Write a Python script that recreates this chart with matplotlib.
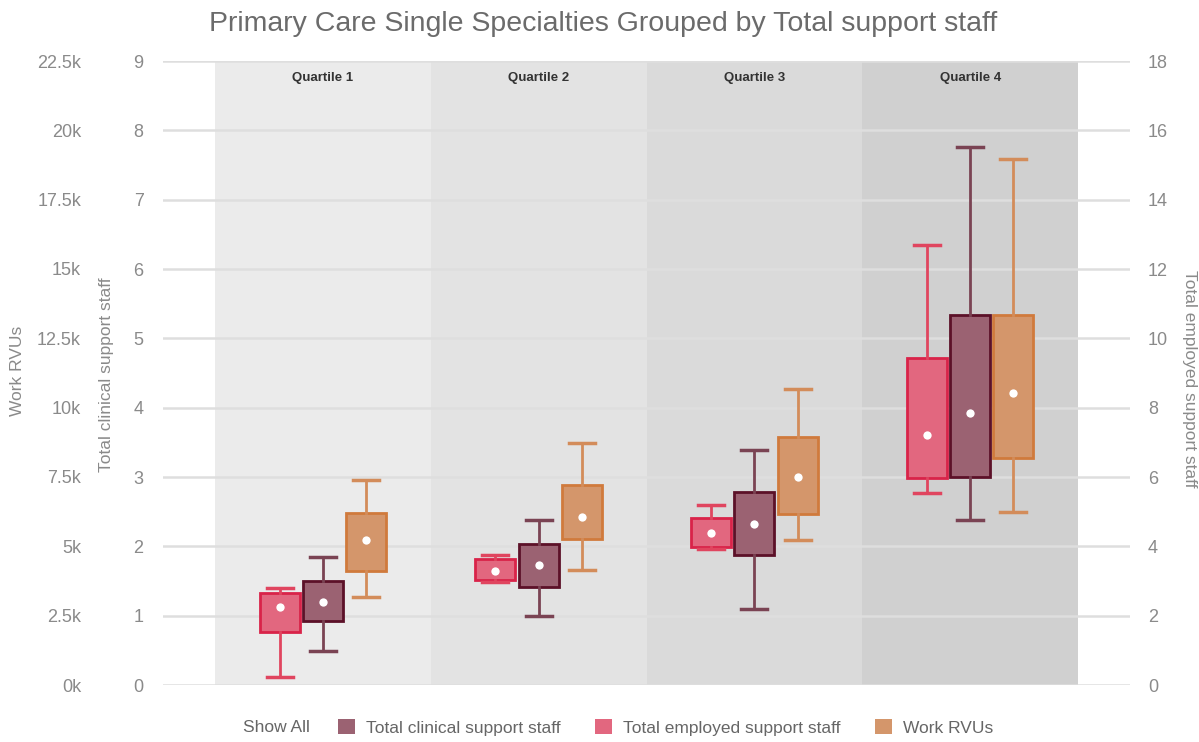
import matplotlib
matplotlib.use('Agg')
import matplotlib.pyplot as plt
from matplotlib.patches import Patch

plt.rcParams['font.family'] = ['Liberation Sans', 'DejaVu Sans']

quartis = ['Quartile 1', 'Quartile 2', 'Quartile 3', 'Quartile 4']

# Total employed support staff (eixo da direita, 0-18)
emp_min = [0.23, 2.98, 3.92, 5.54]
emp_q1 = [1.53, 3.03, 3.98, 5.97]
emp_q3 = [2.65, 3.63, 4.82, 9.43]
emp_max = [2.80, 3.75, 5.19, 12.69]
emp_media = [2.25, 3.29, 4.38, 7.21]

# Total clinical support staff (eixo 0-9)
cli_min = [0.49, 1.00, 1.10, 2.38]
cli_q1 = [0.92, 1.41, 1.875, 3.00]
cli_q3 = [1.50, 2.03, 2.78, 5.34]
cli_max = [1.85, 2.38, 3.39, 7.76]
cli_media = [1.20, 1.73, 2.32, 3.92]

# Work RVUs (eixo 0-22.5k)
rvu_min = [3170, 4150, 5230, 6240]
rvu_q1 = [4110, 5270, 6170, 8190]
rvu_q3 = [6200, 7210, 8940, 13340]
rvu_max = [7390, 8730, 10670, 18970]
rvu_media = [5230, 6060, 7500, 10530]

cores_faixa = ['#ebebeb', '#e3e3e3', '#dadada', '#d0d0d0']
cinza = '#8a8a8a'


def desenhar_caixas(ax, minimo, q1, q3, maximo, media, desloc, face, borda, bigode):
    stats = []
    for i in range(len(minimo)):
        stats.append({'whislo': minimo[i], 'q1': q1[i], 'med': media[i], 'q3': q3[i],
                      'whishi': maximo[i], 'mean': media[i], 'fliers': []})
    posicoes = [i + desloc for i in range(len(minimo))]
    ax.bxp(stats, positions=posicoes, widths=0.185, patch_artist=True, showmeans=True,
           capwidths=0.12, manage_ticks=False,
           boxprops=dict(facecolor=face, edgecolor=borda, linewidth=2),
           whiskerprops=dict(color=bigode, linewidth=2),
           capprops=dict(color=bigode, linewidth=2.5),
           medianprops=dict(visible=False),
           meanprops=dict(marker='o', markerfacecolor='white', markeredgecolor=face,
                          markersize=7))


fig = plt.figure(figsize=(11.99, 7.42), dpi=100)
ax = fig.add_axes([163 / 1199, 57 / 742, 967 / 1199, 624 / 742])
ax_rvu = ax.twinx()
ax_emp = ax.twinx()

ax.set_xlim(-0.74, 3.74)
ax.set_ylim(0, 9)
ax.set_yticks(range(0, 10))
ax_rvu.set_ylim(0, 22500)
ax_rvu.set_yticks([i * 2500 for i in range(10)])
ax_rvu.set_yticklabels([f'{i * 2.5:g}k' for i in range(10)])
ax_emp.set_ylim(0, 18)
ax_emp.set_yticks(range(0, 19, 2))

for i, q in enumerate(quartis):
    ax.axvspan(i - 0.5, i + 0.5, color=cores_faixa[i], zorder=0, lw=0)
    ax.text(i, 0.973, q, transform=ax.get_xaxis_transform(), ha='center', va='center',
            fontsize=9.5, fontweight='bold', color='#333333')

ax.yaxis.grid(True, color='#dedede', linewidth=1.8)
ax.set_axisbelow(True)
ax.set_xticks([])

for a in (ax, ax_rvu, ax_emp):
    for s in a.spines.values():
        s.set_visible(False)

ax.tick_params(axis='y', length=0, pad=14, labelsize=13, labelcolor=cinza)
ax_rvu.yaxis.set_ticks_position('left')
ax_rvu.spines['left'].set_position(('outward', 50))
ax_rvu.tick_params(axis='y', length=0, pad=9, labelsize=13, labelcolor=cinza,
                   labelleft=True, labelright=False)
ax_emp.tick_params(axis='y', length=0, pad=13, labelsize=13, labelcolor=cinza)

desenhar_caixas(ax_emp, emp_min, emp_q1, emp_q3, emp_max, emp_media, -0.2,
                '#e2677f', '#d92349', '#e0455f')
desenhar_caixas(ax, cli_min, cli_q1, cli_q3, cli_max, cli_media, 0.0,
                '#9b6272', '#5c1128', '#7a4353')
desenhar_caixas(ax_rvu, rvu_min, rvu_q1, rvu_q3, rvu_max, rvu_media, 0.2,
                '#d4966b', '#d07a3c', '#d38c5a')

fig.text(0.503, 0.968, 'Primary Care Single Specialties Grouped by Total support staff',
         ha='center', va='center', fontsize=20.5, color='#6b6b6b')
fig.text(18 / 1199, 0.50, 'Work RVUs', rotation=90, ha='center', va='center',
         fontsize=12.5, color=cinza)
fig.text(106 / 1199, 0.495, 'Total clinical support staff', rotation=90, ha='center',
         va='center', fontsize=12.5, color=cinza)
fig.text(1189 / 1199, 0.49, 'Total employed support staff', rotation=270, ha='center',
         va='center', fontsize=12.5, color=cinza)

fig.text(243 / 1199, 0.020, 'Show All', ha='left', va='center', fontsize=12.5, color='#666666')
legendas = [Patch(facecolor='#9b6272', edgecolor='none', label='Total clinical support staff'),
            Patch(facecolor='#e2677f', edgecolor='none', label='Total employed support staff'),
            Patch(facecolor='#d4966b', edgecolor='none', label='Work RVUs')]
fig.legend(handles=legendas, loc='center', bbox_to_anchor=(0.555, 0.020), ncol=3,
           frameon=False, fontsize=12.5, handlelength=1.0, handleheight=1.0,
           columnspacing=2.0, handletextpad=0.6, labelcolor='#666666')

fig.savefig('out.png', dpi=100)
